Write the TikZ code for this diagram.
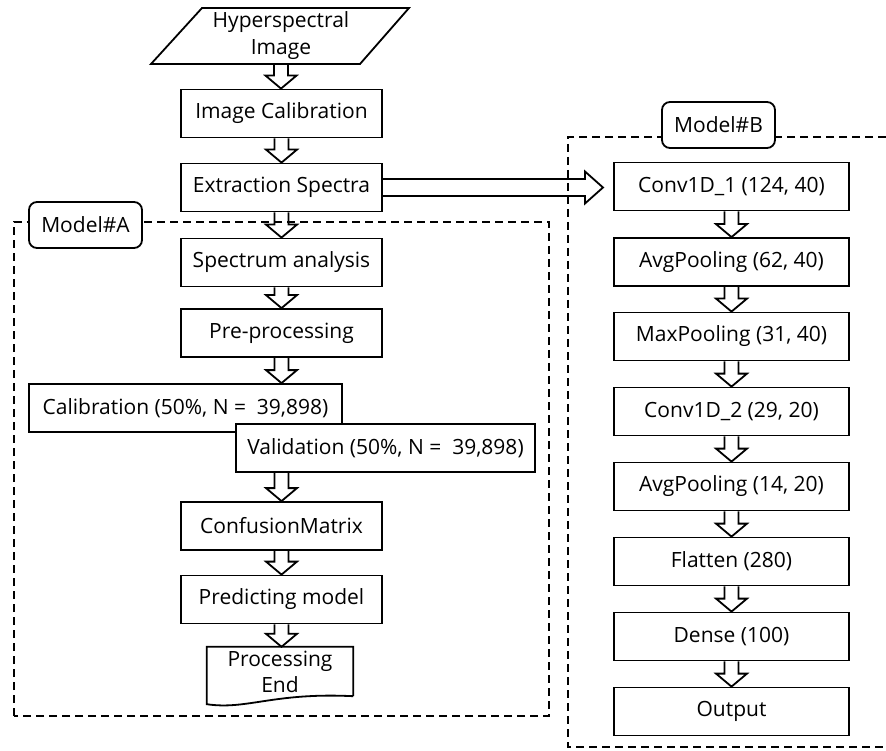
\documentclass[tikz,border=0pt]{standalone}
\usepackage{fontspec}
\setmainfont{Open Sans}
\usetikzlibrary{calc}
\tikzset{
  box/.style={draw, line width=1.8pt, fill=white, minimum height=48pt, inner sep=0pt, align=center},
  lbox/.style={box, minimum width=201pt},
  rbox/.style={box, minimum width=235pt},
  tag/.style={draw, line width=1.8pt, fill=white, rounded corners=8pt, minimum width=113pt, minimum height=46pt, inner sep=0pt},
  blk/.style={draw, line width=1.8pt, line join=miter},
  frame/.style={line width=1.8pt, dash pattern=on 8pt off 5pt},
}
\newcommand\vblk[2]{\draw[blk] let \p1=#1, \p2=#2 in
  ({\x1-7pt},\y1) -- ({\x1-7pt},{\y2+13pt}) -- ({\x1-15.5pt},{\y2+13pt}) -- (\x1,\y2)
  -- ({\x1+15.5pt},{\y2+13pt}) -- ({\x1+7pt},{\y2+13pt}) -- ({\x1+7pt},\y1);}
\begin{document}
\begin{tikzpicture}[x=1pt,y=-1pt,font=\fontsize{21}{27}\selectfont]
\useasboundingbox (0,0) rectangle (886,751);
% frames
\draw[frame] (14,716) -- (14,222) -- (549,222) -- (549,716) -- cycle;
\draw[frame] (886,137) -- (568,137) -- (568,747) -- (886,747);
% hyperspectral image parallelogram
\draw[line width=1.8pt, line join=miter] (202,8) -- (409,8) -- (360,64) -- (151,64) -- cycle;
\node[minimum width=150pt, minimum height=56pt, inner sep=0pt, align=center] (hsi) at (281,36) {Hyperspectral\\Image};
% left column
\node[lbox] (ic) at (281.5,113.5) {Image Calibration};
\node[lbox] (es) at (281.5,187.5) {Extraction Spectra};
\node[lbox] (sa) at (281.5,262.5) {Spectrum analysis};
\node[lbox] (pp) at (281.5,333) {Pre-processing};
\node[box, minimum width=313pt] (cal) at (185.5,408) {Calibration (50\%, N = \ 39,898)};
\node[box, minimum width=299pt] (val) at (385.5,448) {Validation (50\%, N = \ 39,898)};
\node[lbox] (cm) at (281.5,526) {ConfusionMatrix};
\node[lbox] (pred) at (281.5,599.5) {Predicting model};
\node[minimum width=146pt, minimum height=49pt, inner sep=0pt, align=center] (pend) at (280,671.5) {Processing\\[-1pt]End};
\draw[line width=1.8pt, line join=miter] (pend.south east) -- (pend.north east) -- (pend.north west) -- ([yshift=-8pt]pend.south west)
  .. controls ([xshift=40pt,yshift=-14pt]pend.south west) and ([xshift=-80pt,yshift=4pt]pend.south east) .. (pend.south east);
% tags
\node[tag] (ta) at (85.5,225) {Model\#A};
\node[tag] (tb) at (718.5,125) {Model\#B};
% right column
\node[rbox] (b1) at (731.5,186.5) {Conv1D\_1 (124, 40)};
\node[rbox] (b2) at (731.5,262) {AvgPooling (62, 40)};
\node[rbox] (b3) at (731.5,336.5) {MaxPooling (31, 40)};
\node[rbox] (b4) at (731.5,411.5) {Conv1D\_2 (29, 20)};
\node[rbox] (b5) at (731.5,486.5) {AvgPooling (14, 20)};
\node[rbox] (b6) at (731.5,561.5) {Flatten (280)};
\node[rbox] (b7) at (731.5,636.5) {Dense (100)};
\node[rbox] (b8) at (731.5,711.5) {Output};
% arrows left
\vblk{(hsi.south)}{(ic.north)}
\vblk{(ic.south)}{(es.north)}
\vblk{(es.south)}{(sa.north)}
\vblk{(sa.south)}{(pp.north)}
\vblk{(pp.south)}{(pp.south |- cal.north)}
\vblk{(val.south -| cm.north)}{(cm.north)}
\vblk{(cm.south)}{(pred.north)}
\vblk{(pred.south)}{(pend.north)}
% arrows right
\vblk{(b1.south)}{(b2.north)}
\vblk{(b2.south)}{(b3.north)}
\vblk{(b3.south)}{(b4.north)}
\vblk{(b4.south)}{(b5.north)}
\vblk{(b5.south)}{(b6.north)}
\vblk{(b6.south)}{(b7.north)}
\vblk{(b7.south)}{(b8.north)}
% horizontal arrow
\coordinate (tipB) at (603,188);
\draw[blk] let \p1=(es.east), \p2=(tipB) in
  (\x1,{\y1+8.5pt}) -- ({\x2-18pt},{\y1+8.5pt}) -- ({\x2-18pt},{\y1+16pt}) -- (\x2,\y1)
  -- ({\x2-18pt},{\y1-16pt}) -- ({\x2-18pt},{\y1-8.5pt}) -- (\x1,{\y1-8.5pt});
\end{tikzpicture}
\end{document}
